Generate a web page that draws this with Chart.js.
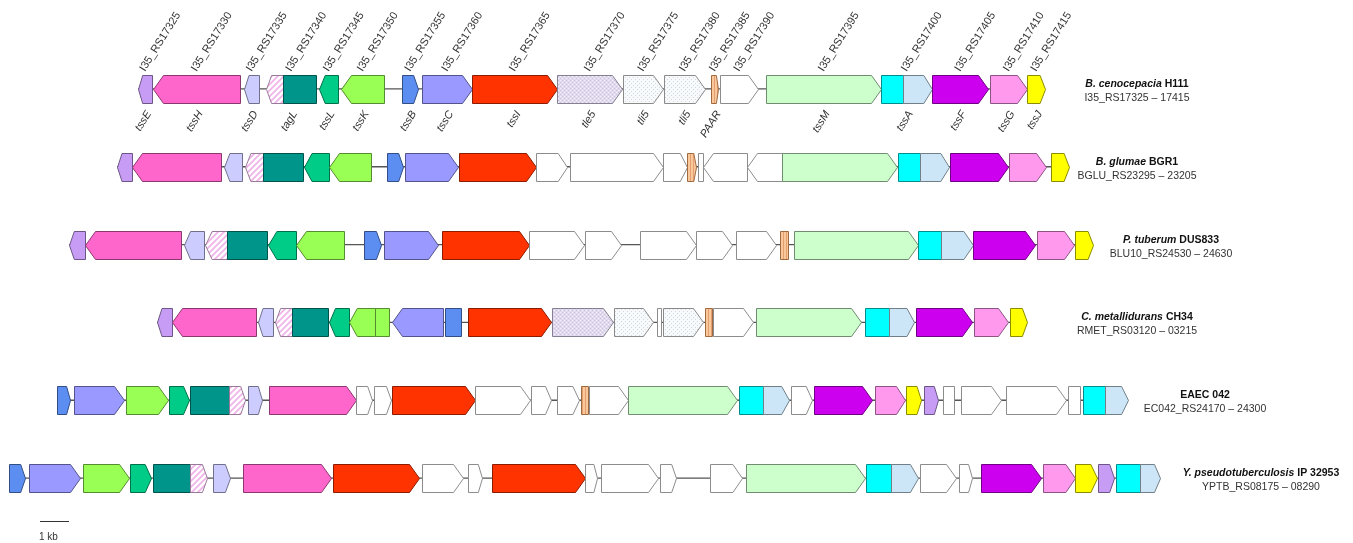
<!DOCTYPE html>
<html><head><meta charset="utf-8">
<script src="https://cdn.jsdelivr.net/npm/chart.js@4/dist/chart.umd.min.js"></script>
<style>html,body{margin:0;padding:0;background:#fff;}#wrap{width:1353px;height:543px;position:relative;}</style>
</head><body><div id="wrap"><canvas id="c" width="1353" height="543"></canvas></div>
<script>
// ---- data (positions in map units along the figure's common axis) ----
const rows = ['H111','BGR1','DUS833','CH34','EAEC042','IP32953'];
// [start, end, strand (R/L/N = no head), family]
const h111 = [[138,152,'L','tssE'],[153,240,'L','tssH'],[244,259,'L','tssD'],[266,283,'L','tagLh'],[283,316,'N','tagL'],[319,338,'L','tssL'],[341,384,'L','tssK'],[402,418,'R','tssB'],[422,472,'R','tssC'],[472,557,'R','tssI'],[557,622,'R','tle'],[623,663,'R','tli'],[664,705,'R','tli'],[711,718,'R','PAAR'],[720,758,'R','other'],[766,881,'R','tssM'],[881,903,'N','tssAa'],[903,932,'R','tssA'],[932,988,'R','tssF'],[990,1027,'R','tssG'],[1027,1045,'R','tssJ']];
const bgr1 = [[117,132,'L','tssE'],[132,221,'L','tssH'],[224,242,'L','tssD'],[245,263,'L','tagLh'],[263,303,'N','tagL'],[304,329,'L','tssL'],[329,371,'L','tssK'],[387,403,'R','tssB'],[405,458,'R','tssC'],[459,536,'R','tssI'],[536,567,'R','other'],[570,663,'R','other'],[663,687,'R','other'],[687,696,'R','PAAR'],[698,703,'N','other'],[703,747,'L','other'],[747,782,'L','other'],[782,897,'R','tssM'],[898,920,'N','tssAa'],[920,949,'R','tssA'],[950,1008,'R','tssF'],[1009,1046,'R','tssG'],[1051,1069,'R','tssJ']];
const dus833 = [[69,85,'L','tssE'],[85,181,'L','tssH'],[184,204,'L','tssD'],[205,227,'L','tagLh'],[227,267,'N','tagL'],[268,296,'L','tssL'],[296,344,'L','tssK'],[364,381,'R','tssB'],[384,438,'R','tssC'],[442,529,'R','tssI'],[529,584,'R','other'],[585,621,'R','other'],[640,696,'R','other'],[696,732,'R','other'],[736,776,'R','other'],[780,788,'N','PAAR'],[794,918,'R','tssM'],[918,941,'N','tssAa'],[941,973,'R','tssA'],[973,1035,'R','tssF'],[1037,1074,'R','tssG'],[1075,1093,'R','tssJ']];
const ch34 = [[157,172,'L','tssE'],[172,256,'L','tssH'],[258,273,'L','tssD'],[275,292,'L','tagLh'],[292,328,'N','tagL'],[329,349,'L','tssL'],[349,375,'L','tssK'],[375,389,'N','tssK'],[392,443,'L','tssC'],[445,461,'N','tssB'],[468,551,'R','tssI'],[552,613,'R','tle'],[614,653,'R','tli'],[657,661,'N','other'],[663,703,'R','tli'],[705,712,'N','PAAR'],[713,753,'R','other'],[756,861,'R','tssM'],[865,889,'N','tssAa'],[889,914,'R','tssA'],[916,972,'R','tssF'],[974,1008,'R','tssG'],[1010,1027,'R','tssJ']];
const eaec042 = [[57,70,'R','tssB'],[74,124,'R','tssC'],[126,168,'R','tssK'],[169,189,'R','tssL'],[190,229,'N','tagL'],[229,245,'R','tagLh'],[248,262,'R','tssD'],[269,356,'R','tssH'],[356,372,'R','other'],[374,391,'R','other'],[392,475,'R','tssI'],[475,530,'R','other'],[531,551,'R','other'],[557,579,'R','other'],[581,588,'N','PAAR'],[589,628,'R','other'],[628,737,'R','tssM'],[739,763,'N','tssAa'],[763,789,'R','tssA'],[791,812,'R','other'],[814,872,'R','tssF'],[875,905,'R','tssG'],[906,921,'R','tssJ'],[924,938,'R','tssE'],[943,954,'N','other'],[961,1001,'R','other'],[1006,1066,'R','other'],[1068,1080,'N','other'],[1083,1105,'N','tssAa'],[1105,1128,'R','tssA']];
const ip32953 = [[9,25,'R','tssB'],[29,80,'R','tssC'],[83,129,'R','tssK'],[130,151,'R','tssL'],[153,190,'N','tagL'],[190,207,'R','tagLh'],[213,230,'R','tssD'],[243,331,'R','tssH'],[333,419,'R','tssI'],[422,463,'R','other'],[468,482,'R','other'],[492,585,'R','tssI'],[585,597,'R','other'],[601,658,'R','other'],[660,676,'R','other'],[710,742,'R','other'],[746,865,'R','tssM'],[866,891,'N','tssAa'],[891,918,'R','tssA'],[920,956,'R','other'],[959,972,'R','other'],[981,1041,'R','tssF'],[1043,1075,'R','tssG'],[1075,1097,'R','tssJ'],[1098,1114,'R','tssE'],[1116,1140,'N','tssAa'],[1140,1160,'R','tssA']];
// locus tags and gene names of the reference cluster (B. cenocepacia H111); '' id = continuation of previous gene
const h111Ids = ['I35_RS17325','I35_RS17330','I35_RS17335','I35_RS17340','','I35_RS17345','I35_RS17350','I35_RS17355','I35_RS17360','I35_RS17365','I35_RS17370','I35_RS17375','I35_RS17380','I35_RS17385','I35_RS17390','I35_RS17395','I35_RS17400','','I35_RS17405','I35_RS17410','I35_RS17415'];
const h111Names = ['tssE','tssH','tssD','tagL','','tssL','tssK','tssB','tssC','tssI','tle5','tli5','tli5','PAAR','','tssM','tssA','','tssF','tssG','tssJ'];
const rowSpecies = ['B. cenocepacia','B. glumae','P. tuberum','C. metallidurans','','Y. pseudotuberculosis'];
const rowStrain = ['H111','BGR1','DUS833','CH34','EAEC 042','IP 32953'];
const rowLocus = ['I35_RS17325 \u2013 17415','BGLU_RS23295 \u2013 23205','BLU10_RS24530 \u2013 24630','RMET_RS03120 \u2013 03215','EC042_RS24170 \u2013 24300','YPTB_RS08175 \u2013 08290'];
const scaleBarKb = 1;
const unitsPerKb = 29;

// ---- layout / style ----
const rowGenes = [h111, bgr1, dus833, ch34, eaec042, ip32953];
const labelCenterX = [1137, 1137, 1171, 1137, 1205, 1261];
const scaleBarStart = 40;
const geneH = 28;
const FONT = '"Liberation Sans", Arial, sans-serif';

function mkPattern(w, h, fn) {
  const c = document.createElement('canvas'); c.width = w; c.height = h;
  const g = c.getContext('2d'); fn(g, w, h);
  return document.getElementById('c').getContext('2d').createPattern(c, 'repeat');
}
const pats = {
  hatch: mkPattern(6, 6, (g) => { g.fillStyle = '#fff'; g.fillRect(0,0,6,6); g.strokeStyle = '#f0b4e8'; g.lineWidth = 1.8;
    g.beginPath(); g.moveTo(-1,7); g.lineTo(7,-1); g.moveTo(-4,4); g.lineTo(4,-4); g.moveTo(2,10); g.lineTo(10,2); g.stroke(); }),
  tle: mkPattern(4, 4, (g) => { g.fillStyle = '#e1daee'; g.fillRect(0,0,4,4); g.fillStyle = '#f7f5fb'; g.fillRect(0,0,1,1); g.fillRect(2,2,1,1);
    g.fillStyle = '#cbc2de'; g.fillRect(2,0,1,1); g.fillRect(0,2,1,1); }),
  tli: mkPattern(4, 4, (g) => { g.fillStyle = '#f7f9fb'; g.fillRect(0,0,4,4); g.fillStyle = '#cdd9e4'; g.fillRect(1,1,1,1); g.fillRect(3,3,1,1); }),
  paar: mkPattern(3, 1, (g) => { g.fillStyle = '#fbc89c'; g.fillRect(0,0,3,1); g.fillStyle = '#e2a070'; g.fillRect(0,0,1,1); })
};
const famStyle = {
  tssE: {fill:'#c69cf4'}, tssH: {fill:'#ff66cc'}, tssD: {fill:'#ccccff'},
  tagLh: {fill: pats.hatch, stroke:'#9a7a9a'}, tagL: {fill:'#00958a'},
  tssL: {fill:'#00cc88'}, tssK: {fill:'#99ff55'}, tssB: {fill:'#5c8ef2'}, tssC: {fill:'#9999ff'},
  tssI: {fill:'#ff3300'}, tle: {fill: pats.tle, stroke:'#85808f'}, tli: {fill: pats.tli, stroke:'#8a8a8a'},
  PAAR: {fill: pats.paar, stroke:'#a06a40'}, other: {fill:'#ffffff'}, tssM: {fill:'#ccffcc'},
  tssAa: {fill:'#00ffff'}, tssA: {fill:'#cce6f8'}, tssF: {fill:'#cc00ee'}, tssG: {fill:'#ff99ee'}, tssJ: {fill:'#ffff00'}
};
function darker(hex) {
  const n = parseInt(hex.slice(1), 16), f = 0.55;
  const r = Math.round(((n >> 16) & 255) * f), g = Math.round(((n >> 8) & 255) * f), b = Math.round((n & 255) * f);
  return 'rgb(' + r + ',' + g + ',' + b + ')';
}

function arrowPath(ctx, x0, x1, yc, h, dir) {
  const len = x1 - x0, head = Math.min(10, len * 0.3);
  const t = yc - h / 2, b = yc + h / 2;
  ctx.beginPath();
  if (dir === 'R') { ctx.moveTo(x0, t); ctx.lineTo(x1 - head, t); ctx.lineTo(x1, yc); ctx.lineTo(x1 - head, b); ctx.lineTo(x0, b); }
  else if (dir === 'L') { ctx.moveTo(x1, t); ctx.lineTo(x0 + head, t); ctx.lineTo(x0, yc); ctx.lineTo(x0 + head, b); ctx.lineTo(x1, b); }
  else { ctx.moveTo(x0, t); ctx.lineTo(x1, t); ctx.lineTo(x1, b); ctx.lineTo(x0, b); }
  ctx.closePath();
}

const genePlugin = {
  id: 'genes',
  afterDatasetsDraw(chart) {
    const ctx = chart.ctx;
    chart.data.datasets.forEach((ds, di) => {
      if (!ds.genes) return;
      const meta = chart.getDatasetMeta(di);
      meta.data.forEach((el, j) => {
        const p = el.getProps(['x', 'base', 'y'], true);
        const g = ds.genes[j];
        const x0 = Math.round(Math.min(p.x, p.base)) + 0.5, x1 = Math.round(Math.max(p.x, p.base)) + 0.5;
        const yc = Math.round(p.y) + 0.5;
        const st = famStyle[g[3]];
        ctx.save();
        arrowPath(ctx, x0, x1, yc, geneH, g[2]);
        ctx.fillStyle = st.fill; ctx.fill();
        ctx.lineWidth = 1; ctx.lineJoin = 'miter';
        ctx.strokeStyle = st.stroke || darker(st.fill); ctx.stroke();
        ctx.restore();
      });
    });
  },
  afterDraw(chart) {
    const ctx = chart.ctx, xs = chart.scales.x, ys = chart.scales.y;
    const ang = -58 * Math.PI / 180;
    // locus tags and gene names of H111 cluster
    const yc0 = ys.getPixelForValue(0);
    ctx.save();
    ctx.fillStyle = '#333';
    h111.forEach((g, i) => {
      if (!h111Ids[i]) return;
      let end = g[1], k = i + 1;
      while (k < h111.length && !h111Ids[k]) { end = h111[k][1]; k++; }
      const cx = xs.getPixelForValue((g[0] + end) / 2);
      ctx.save(); ctx.translate(cx, yc0 - geneH / 2 - 3); ctx.rotate(ang);
      ctx.font = '11px ' + FONT; ctx.textAlign = 'left'; ctx.textBaseline = 'alphabetic';
      ctx.fillText(h111Ids[i], 0, 0); ctx.restore();
      if (h111Names[i]) {
        ctx.save(); ctx.translate(cx + 4, yc0 + geneH / 2 + 9); ctx.rotate(ang);
        ctx.font = 'italic 11px ' + FONT; ctx.textAlign = 'right'; ctx.textBaseline = 'middle';
        ctx.fillText(h111Names[i], 0, 0); ctx.restore();
      }
    });
    // strain labels
    rows.forEach((r, i) => {
      const yc = ys.getPixelForValue(i);
      const cx = xs.getPixelForValue(labelCenterX[i]);
      const sp = rowSpecies[i] ? rowSpecies[i] + ' ' : '';
      ctx.font = 'bold italic 10.5px ' + FONT; const w1 = sp ? ctx.measureText(sp).width : 0;
      ctx.font = 'bold 10.5px ' + FONT; const w2 = ctx.measureText(rowStrain[i]).width;
      let x = cx - (w1 + w2) / 2;
      ctx.textAlign = 'left'; ctx.textBaseline = 'alphabetic'; ctx.fillStyle = '#111';
      if (sp) { ctx.font = 'bold italic 10.5px ' + FONT; ctx.fillText(sp, x, yc - 2); }
      ctx.font = 'bold 10.5px ' + FONT; ctx.fillText(rowStrain[i], x + w1, yc - 2);
      ctx.font = '10.5px ' + FONT; ctx.fillStyle = '#333'; ctx.textAlign = 'center';
      ctx.fillText(rowLocus[i], cx, yc + 12);
    });
    // scale bar
    const sx0 = xs.getPixelForValue(scaleBarStart), sx1 = xs.getPixelForValue(scaleBarStart + scaleBarKb * unitsPerKb);
    ctx.strokeStyle = '#333'; ctx.lineWidth = 1;
    ctx.beginPath(); ctx.moveTo(sx0, 521.5); ctx.lineTo(sx1, 521.5); ctx.stroke();
    ctx.font = '10px ' + FONT; ctx.fillStyle = '#333'; ctx.textAlign = 'left';
    ctx.fillText(scaleBarKb + ' kb', sx0 - 1, 540);
    ctx.restore();
  }
};

const datasets = [{
  label: 'backbone',
  data: rowGenes.map((gs, i) => ({ y: rows[i], x: [Math.min(...gs.map(g => g[0])), Math.max(...gs.map(g => g[1]))] })),
  backgroundColor: '#555', borderWidth: 0, maxBarThickness: 1.3, grouped: false
}].concat(rowGenes.map((gs, i) => ({
  label: rows[i], genes: gs,
  data: gs.map(g => ({ y: rows[i], x: [g[0], g[1]] })),
  backgroundColor: 'rgba(0,0,0,0)', borderWidth: 0, maxBarThickness: geneH, grouped: false
})));

new Chart(document.getElementById('c'), {
  type: 'bar',
  data: { labels: rows, datasets },
  options: {
    indexAxis: 'y', responsive: false, animation: false, events: [],
    layout: { padding: { top: 50, bottom: 26, left: 0, right: 0 } },
    scales: {
      x: { type: 'linear', min: 0, max: 1353, display: false },
      y: { type: 'category', display: false, offset: true }
    },
    plugins: { legend: { display: false }, tooltip: { enabled: false } }
  },
  plugins: [genePlugin]
});
</script></body></html>
